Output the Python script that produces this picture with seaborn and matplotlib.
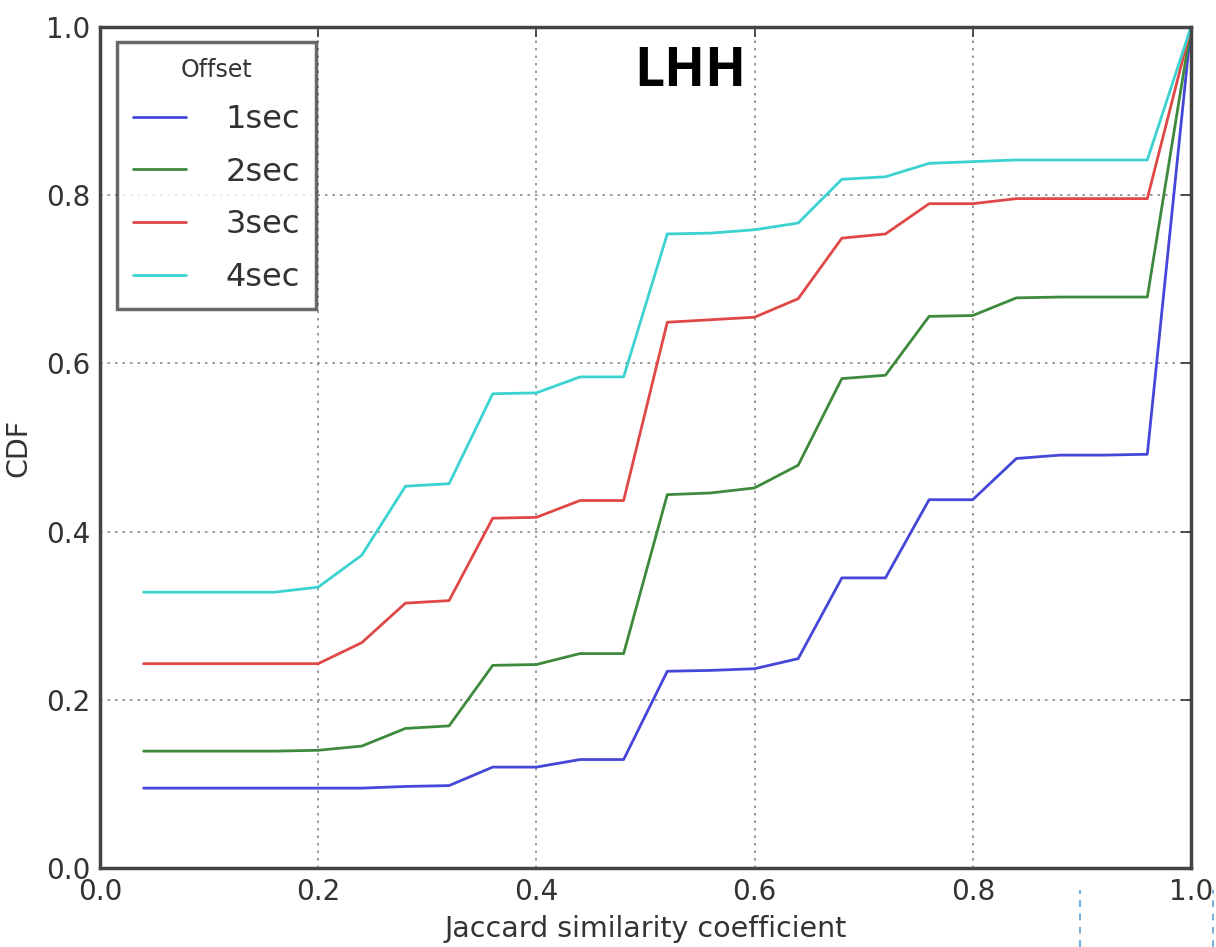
import numpy as np
import pandas as pd
import matplotlib
matplotlib.use("Agg")
import matplotlib.pyplot as plt
import seaborn as sns
from matplotlib.lines import Line2D

# ---- data ----
jaccard = [0.04, 0.08, 0.12, 0.16, 0.20, 0.24, 0.28, 0.32, 0.36, 0.40, 0.44, 0.48, 0.52,
           0.56, 0.60, 0.64, 0.68, 0.72, 0.76, 0.80, 0.84, 0.88, 0.92, 0.96, 1.00]
cdf_1sec = [0.095, 0.095, 0.095, 0.095, 0.095, 0.095, 0.097, 0.098, 0.120, 0.120, 0.129, 0.129, 0.234,
            0.235, 0.237, 0.249, 0.345, 0.345, 0.438, 0.438, 0.487, 0.491, 0.491, 0.492, 1.000]
cdf_2sec = [0.139, 0.139, 0.139, 0.139, 0.140, 0.145, 0.166, 0.169, 0.241, 0.242, 0.255, 0.255, 0.444,
            0.446, 0.452, 0.479, 0.582, 0.586, 0.656, 0.657, 0.678, 0.679, 0.679, 0.679, 1.000]
cdf_3sec = [0.243, 0.243, 0.243, 0.243, 0.243, 0.268, 0.315, 0.318, 0.416, 0.417, 0.437, 0.437, 0.649,
            0.652, 0.655, 0.677, 0.749, 0.754, 0.790, 0.790, 0.796, 0.796, 0.796, 0.796, 1.000]
cdf_4sec = [0.328, 0.328, 0.328, 0.328, 0.334, 0.372, 0.454, 0.457, 0.564, 0.565, 0.584, 0.584, 0.754,
            0.755, 0.759, 0.767, 0.819, 0.822, 0.838, 0.840, 0.842, 0.842, 0.842, 0.842, 1.000]
series_names = ["1sec", "2sec", "3sec", "4sec"]
x_ticks = [0.0, 0.2, 0.4, 0.6, 0.8, 1.0]
y_ticks = [0.0, 0.2, 0.4, 0.6, 0.8, 1.0]

df = pd.concat([
    pd.DataFrame({"Jaccard": jaccard, "CDF": vals, "Offset": name})
    for name, vals in zip(series_names, [cdf_1sec, cdf_2sec, cdf_3sec, cdf_4sec])
], ignore_index=True)

sns.set_style("white")
plt.rcParams["font.family"] = ["DejaVu Sans"]

fig = plt.figure(figsize=(12.16, 9.47), dpi=100)
ax = fig.add_axes([0.0822, 0.0834, 0.8972, 0.888])

palette = {"1sec": "#4646d8", "2sec": "#3d8a3d", "3sec": "#e04848", "4sec": "#3cd2d2"}
sns.lineplot(data=df, x="Jaccard", y="CDF", hue="Offset", palette=palette,
             linewidth=2.0, ax=ax, legend=False)

ax.set_xlim(0, 1)
ax.set_ylim(0, 1)
ax.set_xticks(x_ticks)
ax.set_yticks(y_ticks)
ax.set_xticklabels([f"{v:.1f}" for v in x_ticks])
ax.set_yticklabels([f"{v:.1f}" for v in y_ticks])
ax.tick_params(axis="both", labelsize=20, colors="#333333", direction="in",
               length=7, width=1.2, top=True, right=True, pad=7)
ax.set_xlabel("Jaccard similarity coefficient", fontsize=20.5, color="#333333", labelpad=7)
ax.set_ylabel("CDF", fontsize=20.5, color="#333333", labelpad=10)
ax.grid(True, linestyle=(0, (1.5, 3)), color="#8a8a8a", linewidth=1.2)
for s in ax.spines.values():
    s.set_color("#444444")
    s.set_linewidth(2.5)
    s.set_visible(True)

handles = [Line2D([0], [0], color=palette[n], lw=2.0) for n in series_names]
leg = ax.legend(handles, series_names, title="Offset", loc="upper left",
                fontsize=23, title_fontsize=17, frameon=True, fancybox=False,
                handlelength=1.65, handletextpad=1.25, borderpad=0.5,
                labelspacing=0.68, bbox_to_anchor=(0.0155, 0.982), borderaxespad=0.0)
leg.get_frame().set_edgecolor("#444444")
leg.get_frame().set_linewidth(2.5)
for t in leg.get_texts():
    t.set_color("#333333")
leg.get_title().set_color("#333333")

ax.text(0.541, 0.9465, "LHH", fontsize=38.5, fontweight="bold", color="black",
        family="Open Sans", ha="center", va="center", transform=ax.transData)

# thin dashed selection-guide marks at bottom right (artifact in reference)
for xf in [1080 / 1216, 1213 / 1216]:
    fig.add_artist(Line2D([xf, xf], [0, 1 - 890 / 947], transform=fig.transFigure,
                          color="#5a9fd8", lw=1.2, linestyle=(0, (4, 4))))

fig.savefig("out.png", dpi=100)
